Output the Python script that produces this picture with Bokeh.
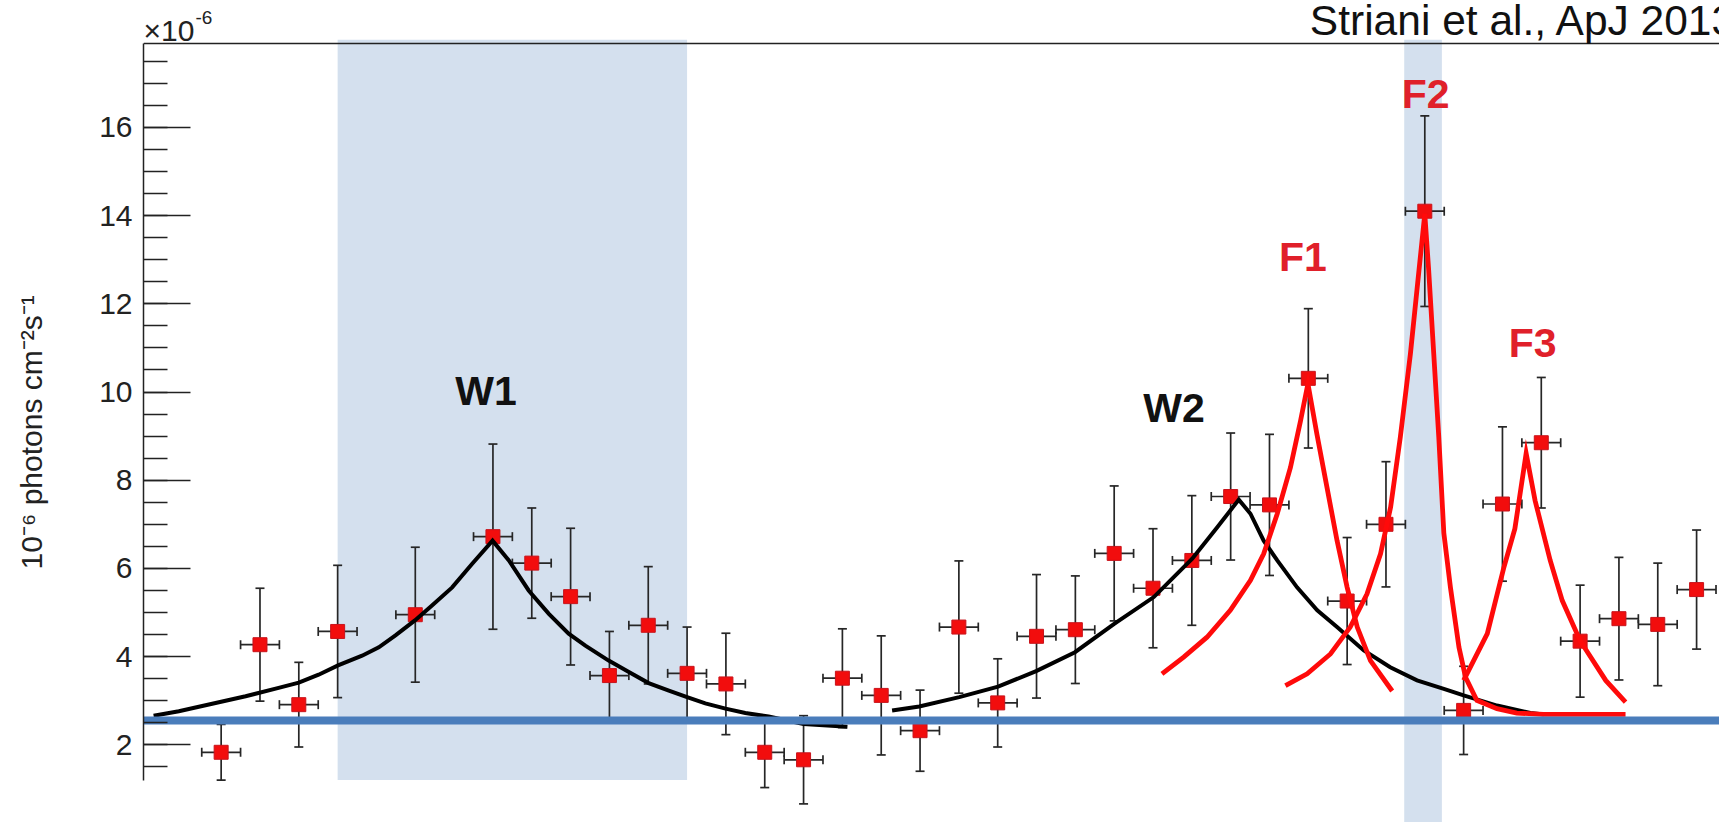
from bokeh.plotting import figure
from bokeh.models import ColumnDataSource, Whisker, TeeHead, Label, SingleIntervalTicker, Range1d
from bokeh.embed import file_html
from bokeh.resources import INLINE

# ---------------- data ----------------
# daily bins (relative day number)
day = [0, 1, 2, 3, 5, 7, 8, 9, 10, 11, 12, 13, 14, 15, 16, 17, 18, 19, 20,
       21, 22, 23, 24, 25, 26, 27, 28, 29, 30, 31, 32, 33, 34, 35, 36, 37, 38]
flux = [1.83, 4.27, 2.91, 4.57, 4.95, 6.72, 6.12, 5.36, 3.57, 4.71, 3.62, 3.38,
        1.83, 1.66, 3.51, 3.12, 2.32, 4.67, 2.95, 4.46, 4.61, 6.34, 5.55, 6.18,
        7.63, 7.44, 10.31, 5.26, 7.00, 14.10, 2.78, 7.46, 8.85, 4.35, 4.86, 4.73, 5.52]
flux_err = [0.63, 1.28, 0.96, 1.50, 1.53, 2.10, 1.25, 1.55, 1.00, 1.33, 1.05, 1.15,
            0.80, 1.00, 1.12, 1.35, 0.92, 1.50, 1.00, 1.40, 1.22, 1.53, 1.35, 1.47,
            1.44, 1.60, 1.58, 1.44, 1.42, 2.16, 1.00, 1.75, 1.48, 1.27, 1.39, 1.39, 1.35]
bin_half_width = 0.5

# wave fits (black)
w1_day = [-1.74, -1.09, -0.23, 0.63, 1.48, 2.00, 2.51, 3.01, 3.63, 4.06, 4.49, 4.99,
          5.43, 5.95, 6.46, 6.99, 7.41, 7.92, 8.44, 8.95, 9.38, 9.98, 10.50, 11.01,
          11.53, 12.00, 12.47, 12.99, 13.50, 14.10, 15.00, 16.13]
w1_flux = [2.66, 2.76, 2.93, 3.10, 3.29, 3.41, 3.59, 3.80, 4.02, 4.21, 4.48, 4.82,
           5.16, 5.57, 6.10, 6.63, 6.18, 5.50, 4.97, 4.52, 4.25, 3.91, 3.65, 3.40,
           3.23, 3.08, 2.94, 2.82, 2.72, 2.64, 2.47, 2.41]
w2_day = [17.28, 17.98, 19.01, 20.01, 20.99, 21.99, 23.00, 24.02, 25.01, 25.65, 26.21,
          26.51, 26.85, 27.20, 27.71, 28.23, 28.74, 29.43, 30.11, 30.80, 31.49, 32.00,
          32.86, 33.72, 34.06]
w2_flux = [2.78, 2.87, 3.08, 3.32, 3.67, 4.10, 4.74, 5.35, 6.22, 6.93, 7.56,
           7.24, 6.63, 6.18, 5.57, 5.05, 4.67, 4.14, 3.76, 3.46, 3.27, 3.12,
           2.89, 2.72, 2.69]

# flare fits (red)
f1_day = [24.23, 24.79, 25.39, 25.99, 26.51, 26.85, 27.20, 27.54, 27.80, 27.99,
          28.22, 28.48, 28.74, 29.00, 29.26, 29.60, 30.16]
f1_flux = [3.61, 3.99, 4.44, 5.05, 5.73, 6.33, 7.24, 8.29, 9.35, 10.19,
           9.05, 7.84, 6.63, 5.57, 4.67, 3.91, 3.22]
f2_day = [27.41, 27.97, 28.57, 29.08, 29.51, 29.86, 30.12, 30.37, 30.63, 30.85, 31.00,
          31.10, 31.23, 31.36, 31.49, 31.66, 31.88, 32.05, 32.34, 32.86, 33.37, 34.06, 36.17]
f2_flux = [3.34, 3.61, 4.06, 4.67, 5.42, 6.33, 7.39, 8.98, 10.87, 12.76, 14.04,
           12.76, 10.87, 8.98, 6.80, 5.57, 4.21, 3.53, 3.01, 2.82, 2.72, 2.69, 2.69]
f3_day = [32.00, 32.61, 33.03, 33.32, 33.61, 33.84, 34.23, 34.54, 35.00, 35.66, 36.17]
f3_flux = [3.46, 4.52, 6.00, 6.90, 8.61, 7.54, 6.18, 5.27, 4.36, 3.46, 2.97]

baseline_flux = 2.55

# highlighted intervals (W1 and F2)
band_left = [3.0, 30.47]
band_right = [12.0, 31.44]
band_bottom = [1.2, 0.0]
band_top = [17.99, 17.99]

# y axis
y_axis_bounds = (1.2, 17.9)
y_label = "10\u207b\u2076 photons cm\u207b\u00b2s\u207b\u00b9" + "\u00a0" * 5

# ---------------- figure ----------------
FONT = "Liberation Sans"
AX = "#222222"

p = figure(width=1719, height=822,
           x_range=Range1d(-2.0, 38.59), y_range=Range1d(0.238, 18.878),
           x_axis_type=None, output_backend="svg", toolbar_location=None,
           min_border_left=143, min_border_right=0, min_border_top=0, min_border_bottom=0,
           background_fill_color="white", border_fill_color="white",
           outline_line_color=None)
p.xgrid.visible = False
p.ygrid.visible = False

yax = p.yaxis[0]
yax.ticker = SingleIntervalTicker(interval=2, num_minor_ticks=4)
yax.bounds = y_axis_bounds
yax.axis_line_color = AX
yax.axis_line_width = 1.5
yax.major_tick_in = 47
yax.major_tick_out = 0
yax.minor_tick_in = 24
yax.minor_tick_out = 0
yax.major_tick_line_color = AX
yax.major_tick_line_width = 1.5
yax.minor_tick_line_color = AX
yax.minor_tick_line_width = 1.5
yax.major_label_standoff = 11
yax.major_label_text_font = FONT
yax.major_label_text_font_size = "30px"
yax.major_label_text_color = AX
yax.axis_label = y_label
yax.axis_label_text_font = FONT
yax.axis_label_text_font_size = "30px"
yax.axis_label_text_font_style = "normal"
yax.axis_label_text_color = AX
yax.axis_label_standoff = 48

# shaded intervals
bands = p.quad(left=band_left, right=band_right, bottom=band_bottom, top=band_top,
               fill_color="#d4e0ee", line_color=None)
bands.level = "image"

# error bars
lo = [f - e for f, e in zip(flux, flux_err)]
hi = [f + e for f, e in zip(flux, flux_err)]
xl = [d - bin_half_width for d in day]
xr = [d + bin_half_width for d in day]
src = ColumnDataSource(dict(day=day, flux=flux, lo=lo, hi=hi, xl=xl, xr=xr))

EB = "#262626"
vw = Whisker(source=src, base="day", lower="lo", upper="hi", dimension="height",
             line_color=EB, line_width=1.7, level="underlay",
             upper_head=TeeHead(size=9, line_color=EB, line_width=1.7),
             lower_head=TeeHead(size=9, line_color=EB, line_width=1.7))
hw = Whisker(source=src, base="flux", lower="xl", upper="xr", dimension="width",
             line_color=EB, line_width=1.7, level="underlay",
             upper_head=TeeHead(size=9, line_color=EB, line_width=1.7),
             lower_head=TeeHead(size=9, line_color=EB, line_width=1.7))
p.add_layout(vw)
p.add_layout(hw)

# top frame line
p.hspan(y=[y_axis_bounds[1]], line_color=AX, line_width=1.5)

# data points
p.scatter("day", "flux", source=src, marker="square", size=14,
          fill_color="#f20d0d", line_color="#c8141c", line_width=1)

# fitted curves
p.line(w1_day, w1_flux, line_color="black", line_width=4, line_join="miter")
p.line(w2_day, w2_flux, line_color="black", line_width=4, line_join="miter")
for fd, ff in ((f1_day, f1_flux), (f2_day, f2_flux), (f3_day, f3_flux)):
    p.line(fd, ff, line_color="#ff0a0a", line_width=4.8, line_join="miter")

# constant baseline
p.hspan(y=[baseline_flux], line_color="#4a7dbb", line_width=8)

# text annotations
for txt, x, y, col in (("W1", 6.82, 10.03, "#111111"), ("W2", 24.54, 9.63, "#111111"),
                       ("F1", 27.86, 13.06, "#e0202a"), ("F2", 31.02, 16.76, "#e0202a"),
                       ("F3", 33.78, 11.11, "#e0202a")):
    p.add_layout(Label(x=x, y=y, text=txt, text_font=FONT, text_font_style="bold",
                       text_font_size="41px", text_color=col,
                       text_align="center", text_baseline="middle"))

p.add_layout(Label(x=28.04, y=18.42, text="Striani et al., ApJ 2013", text_font=FONT,
                   text_font_size="42.5px", text_color="#111111",
                   text_align="left", text_baseline="middle"))
p.add_layout(Label(x=-2.0, y=18.19, text="\u00d710", text_font=FONT,
                   text_font_size="30px", text_color=AX,
                   text_align="left", text_baseline="middle"))
p.add_layout(Label(x=-0.662, y=18.50, text="-6", text_font=FONT,
                   text_font_size="19px", text_color=AX,
                   text_align="left", text_baseline="middle"))

open("out.html", "w").write(file_html(p, INLINE))
